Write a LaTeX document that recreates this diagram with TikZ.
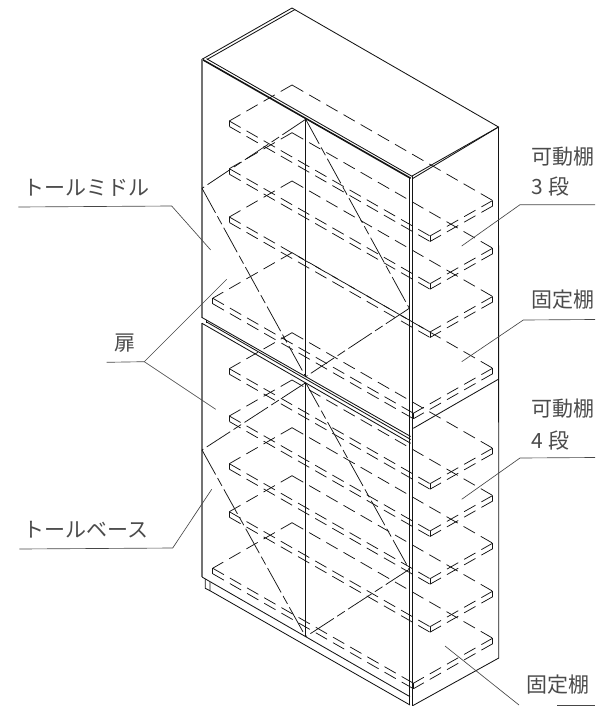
\documentclass[tikz,border=0pt]{standalone}
\usepackage{fontspec}
\newfontfamily\jpfont{Noto Sans CJK JP}
\definecolor{ink}{RGB}{20, 20, 20}
\definecolor{lead}{RGB}{70, 70, 70}
\definecolor{word}{RGB}{75, 75, 75}
\tikzset{
  edge/.style={draw=ink, line width=0.85pt},
  heavy/.style={draw=ink, line width=1.6pt},
  wall/.style={draw=black!55, line width=1.3pt},
  hidden/.style={draw=ink, line width=0.75pt, dash pattern=on 13pt off 6.8pt},
  swing/.style={draw=ink, line width=0.75pt, dash pattern=on 28pt off 4pt on 9pt off 4pt},
  leader/.style={draw=lead, line width=0.65pt},
  note/.style={text=word, inner sep=0, anchor=west, font=\jpfont\fontsize{21}{22}\selectfont}
}
\newcommand{\shelfbox}[2]{
  % back height, left x
  \pgfmathsetmacro{\Ly}{#1 + (292 - #2) * 0.574}
  \pgfmathsetmacro{\Fx}{#2 + 200.7}
  \pgfmathsetmacro{\Fy}{\Ly + 115}
  \pgfmathsetmacro{\Ry}{#1 + 115.5}
  \draw[hidden] (292, #1) -- (#2, \Ly);
  \draw[hidden] (292, #1) -- (\Rx, \Ry);
  \draw[hidden] (#2, \Ly) -- (\Fx, \Fy);
  \draw[hidden] (\Rx, \Ry) -- (\Fx, \Fy);
  \draw[hidden] (#2, \Ly + \Th) -- (\Fx, \Fy + \Th);
  \draw[hidden] (\Rx, \Ry + \Th) -- (\Fx, \Fy + \Th);
  \draw[edge] (#2, \Ly) -- (#2, \Ly + \Th);
  \draw[edge] (\Fx, \Fy) -- (\Fx, \Fy + \Th);
  \draw[edge] (\Rx, \Ry) -- (\Rx, \Ry + \Th);
}
\begin{document}
\begin{tikzpicture}[x=1pt, y=-1pt]
  \useasboundingbox (0, 0) rectangle (595, 706);

  % Size
  \pgfmathsetmacro{\Th}{5.5}
  \pgfmathsetmacro{\Rx}{492.7}

  % Carcass
  \coordinate (topL) at (202, 59.3);
  \coordinate (topB) at (292, 8);
  \coordinate (topR) at (498.5, 127);
  \coordinate (topF) at (412, 176);

  \draw[edge] (topL) -- (topB) -- (topR) -- (topF);
  \draw[edge] (207, 59.5) -- (295, 9.5);
  \draw[edge] (412.7, 178.5) -- (topR);
  \draw[edge] (topR) -- (498.8, 658) -- (413, 705.5);
  \draw[edge] (413.3, 428.3) -- (498.8, 379);

  % Doors
  \draw[heavy] (topL) -- (410.7, 178.3);
  \draw[edge] (206.5, 58.7) -- (412.7, 176.7);
  \draw[wall] (202, 59.3) -- (202, 317.5);
  \draw[wall] (202, 323.3) -- (202, 577);
  \draw[edge] (409.3, 178.3) -- (409.3, 705);
  \draw[heavy] (412.5, 177) -- (412.5, 706);
  \draw[edge] (305.7, 119.3) -- (305.7, 376.7);
  \draw[edge] (305.7, 382.7) -- (305.7, 636.7);

  % Joint
  \draw[edge] (202, 317.5) -- (410.7, 436.5);
  \draw[edge] (206.3, 319.5) -- (206.3, 323);
  \draw[edge] (206.3, 321.8) -- (410.7, 439.5);
  \draw[edge] (202, 323.3) -- (410.7, 443.3);

  % Plinth
  \draw[edge] (202, 577) -- (410, 696.7);
  \draw[edge] (205.3, 579) -- (205.3, 588.3) -- (210, 590.7);
  \draw[edge] (210, 582) -- (210, 590.7) -- (410, 705);

  % Shelves
  \foreach \By in {85, 132.7, 181, 332.7, 380, 427.7, 475.7} {
    \shelfbox{\By}{229.3}
  }
  \foreach \By in {252.7, 522.7} {
    \shelfbox{\By}{212.7}
  }

  % Door swing
  \coordinate (upTop) at (305.7, 119.3);
  \coordinate (upLeft) at (202, 188.3);
  \coordinate (upRight) at (409.3, 308.3);
  \coordinate (upLow) at (305.7, 376.7);
  \coordinate (loTop) at (305.7, 382.7);
  \coordinate (loLeft) at (202, 450);
  \coordinate (loRight) at (409.3, 569.3);
  \coordinate (loLow) at (305.7, 636.7);

  \draw[swing] (upTop) -- (upLeft);
  \draw[swing] (upLeft) -- (upLow);
  \draw[swing] (upTop) -- (upRight);
  \draw[swing] (upRight) -- (upLow);
  \draw[swing] (loTop) -- (loLeft);
  \draw[swing] (loLeft) -- (loLow);
  \draw[swing] (loTop) -- (loRight);
  \draw[swing] (loRight) -- (loLow);

  % Labels
  \node[note] (midLabel) at (23, 188) {トールミドル};
  \node[note] (doorLabel) at (114.5, 343) {扉};
  \node[note] (baseLabel) at (23, 530) {トールベース};
  \node[note] (moveUp) at (531.5, 156.5) {可動棚};
  \node[note] (moveUpN) at (531.5, 187) {3 段};
  \node[note] (fixUp) at (531.5, 300) {固定棚};
  \node[note] (moveLo) at (531.5, 409) {可動棚};
  \node[note] (moveLoN) at (531.5, 441) {4 段};
  \node[note] (fixLo) at (526.5, 685) {固定棚};

  % Leaders
  \coordinate (midA) at (18.3, 207);
  \coordinate (midB) at (171.7, 206);
  \coordinate (midC) at (210.7, 250);
  \coordinate (doorA) at (106.7, 362.3);
  \coordinate (doorB) at (144.3, 361.7);
  \coordinate (doorC) at (226.7, 279.3);
  \coordinate (doorD) at (215.7, 409.3);
  \coordinate (baseA) at (19.3, 549);
  \coordinate (baseB) at (172.7, 548);
  \coordinate (baseC) at (211.7, 489.3);
  \coordinate (moveUpA) at (595, 204.7);
  \coordinate (moveUpB) at (520, 204.7);
  \coordinate (moveUpC) at (461.7, 246);
  \coordinate (fixUpA) at (595, 319.5);
  \coordinate (fixUpB) at (523.3, 320);
  \coordinate (fixUpC) at (461.7, 361.7);
  \coordinate (moveLoA) at (595, 457.5);
  \coordinate (moveLoB) at (520, 458);
  \coordinate (moveLoC) at (461.7, 499.3);
  \coordinate (fixLoA) at (445, 646);
  \coordinate (fixLoB) at (519, 705);
  \coordinate (fixLoC) at (557, 705);
  \coordinate (fixLoD) at (595, 705);

  \draw[leader] (midA) -- (midB) -- (midC);
  \draw[leader] (doorA) -- (doorB) -- (doorC);
  \draw[leader] (doorB) -- (doorD);
  \draw[leader] (baseA) -- (baseB) -- (baseC);
  \draw[leader] (moveUpA) -- (moveUpB) -- (moveUpC);
  \draw[leader] (fixUpA) -- (fixUpB) -- (fixUpC);
  \draw[leader] (moveLoA) -- (moveLoB) -- (moveLoC);
  \draw[leader] (fixLoA) -- (fixLoB);
  \draw[leader] (fixLoC) -- (fixLoD);
\end{tikzpicture}
\end{document}
